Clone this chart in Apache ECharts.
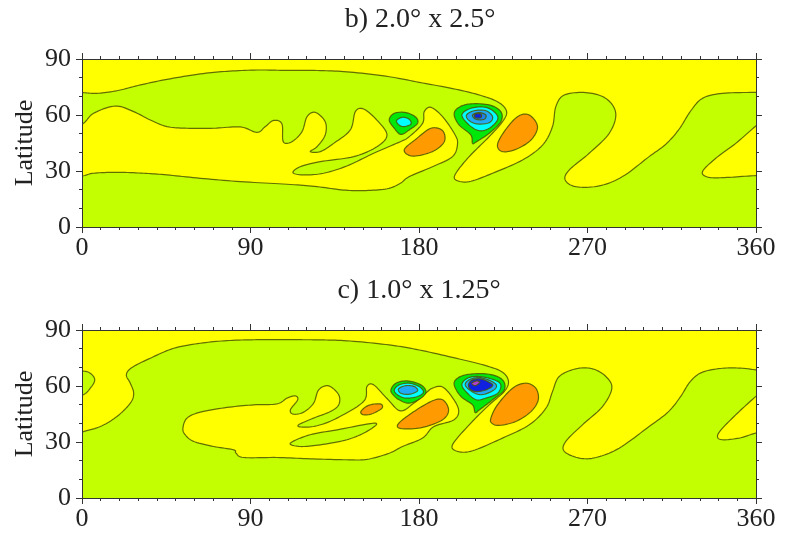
<!DOCTYPE html>
<html><head><meta charset="utf-8">
<style>html,body{margin:0;padding:0;background:#fff}#c{width:789px;height:536px}</style>
<script src="https://cdn.jsdelivr.net/npm/echarts@6/dist/echarts.min.js"></script>
</head><body><div id="c"></div>
<script>
// Contour outlines as [longitude, latitude]
const bTopBand=[[-12,110],[-12,72],[-5,72],[0,72],[8,71.6],[18.7,73],[31.2,76.1],[45.4,79.1],[63.2,82],[77.4,83.4],[93.5,84.1],[109.5,83.9],[127.3,83.8],[143.3,83],[164.1,80.5],[180.1,77.5],[199.7,73.8],[213.9,70.2],[222.8,66.6],[226.8,61.8],[224.6,56.4],[217.5,48.4],[206.8,37.7],[199.7,28.8],[199.7,25.2],[206.8,24.3],[219.3,28.8],[235.3,35.9],[246,43.9],[251.3,53.8],[253.1,64.5],[257.6,70.7],[269.1,72],[279.8,68.9],[285.1,60.9],[281.6,50.2],[270.9,39.5],[260.2,30.5],[258.1,25.2],[263.8,21.6],[276.2,22],[288.7,27],[302.9,37.7],[312,44.5],[319,52.5],[325,62],[331.4,68.9],[342.1,71.6],[359.9,72.1],[366,72.1],[372,72],[372,110]];
const bMidBand=[[-12,50],[0,55],[6.2,60.9],[17.8,64.8],[27.6,61.8],[36.5,57.3],[45.4,53.8],[56.1,52.9],[70.3,52.9],[84.6,53.6],[93.5,50.7],[97.9,53.8],[102.4,57.1],[106.8,55.2],[107.5,45.7],[112.1,45.7],[117.5,51.1],[120.2,59.1],[124.6,61.4],[129.9,56.4],[129.9,49.3],[125.5,43],[121.9,40.4],[127.3,40.4],[134.4,44.8],[143.3,52],[146,61.8],[150.4,63.2],[157.5,57.3],[162.9,49.3],[157.5,43],[145.1,37.7],[127.3,35],[116.6,32.3],[112.7,29.1],[118.4,27.9],[129,28.8],[141.5,32.7],[155.8,39.5],[170,45.7],[174.8,48.4],[181.9,55.5],[182.8,61.8],[186.4,64.1],[192.6,59.1],[198.8,50.2],[200.6,44.8],[197.9,37.7],[187.2,32.3],[174.8,27],[170,23.4],[163,20.5],[150.4,19.5],[139.7,19.8],[125.5,21.6],[109.5,22.9],[84.6,24.3],[63.2,26.1],[45.4,27.9],[32.9,28.8],[18.7,29.3],[6.2,28.8],[0,27.3],[-12,26]];
const bRightTongue=[[372,64],[359.9,54.1],[349.2,44.8],[338.5,36.8],[331.4,29.6],[335,26.6],[345.7,26.6],[359.9,27.5],[372,27]];
const bOrangeA=[[172.1,41.3],[178.3,47],[186.4,52.9],[192.6,51.6],[193.5,45.7],[187.2,40.4],[176.6,38]];
const bOrangeB=[[221.9,43.9],[225.5,51.1],[232.6,59.1],[238.9,60],[243.3,53.8],[239.8,46.6],[231.7,41.6],[224.6,40.4]];
const bEddyAGreen=[[164.1,57.3],[166.8,60.9],[173,61.3],[178.3,58.8],[179.2,55.5],[174.8,52],[170.3,49.6],[166.8,52.9]];
const bEddyACyan=[[168,57],[171.2,58.8],[174.8,57.7],[175.7,55.2],[172.1,53.8],[169.4,54.6]];
const bEddyBGreen=[[198.8,60],[200.6,63.6],[206.8,65.9],[217.5,65.4],[223.7,61.8],[223.7,56.4],[217.5,50.2],[210.7,45.7],[208.6,44.8],[207.7,49.3],[201.5,54.6]];
const bEddyBCyan=[[202.9,60],[207.7,63.6],[215.7,64.1],[221,60.9],[221.9,57.3],[217.5,52.9],[212.2,51.6],[206.8,54.6]];
const bEddyBBlue=[[205.4,60],[209.5,62.3],[215.7,62.3],[219.3,59.1],[217.5,55.9],[211.3,55.2],[206.8,57]];
const bEddyBMid=[[208.6,60],[212.2,61.3],[215.7,60],[214.8,57.7],[210.4,57.7]];
const bEddyBDeep=[[210,60.5],[213,60.5],[213,58.6],[210,58.6]];

const cTopBand=[[-12,110],[-12,31],[-5,33],[0,35.3],[9.8,38.3],[18.7,43.7],[25.8,50.8],[27.6,56.1],[25.8,61.5],[23.7,66],[26.7,69.9],[36.5,74.9],[49,80.2],[63.2,82.9],[77.4,84.3],[93.5,84.8],[109.5,84.8],[127.3,84.7],[143.3,84.1],[164.1,82],[180.1,79.3],[199.7,74.9],[215.7,70.9],[224.6,67.4],[227.8,62.4],[225.5,57],[217.5,49.9],[206.8,39.2],[197.9,28.5],[200.6,25],[208.6,25.3],[224.6,32.1],[238.9,39.2],[247.8,48.1],[251.3,57],[254.9,65.1],[263.8,69.2],[272.7,69.2],[279.8,65.1],[283,58.8],[278,49],[267.3,39.2],[258.4,30.3],[257.6,25],[265.6,21.4],[274.5,21.7],[286.9,26.7],[302.9,38.3],[313,46],[319.5,54],[325,62.5],[331.4,67.4],[342.1,69.5],[352.8,69.5],[359.9,68.6],[372,67],[372,110]];
const cLeftPatch=[[-12,69],[0,68.1],[4.4,66.8],[6.8,63.3],[4.4,58.8],[0,55],[-12,52]];
const cMidBand=[[53.9,37.4],[56.1,42.8],[63.2,46],[77.4,48.5],[91.7,49.9],[104.1,50.4],[109.5,53.5],[113.9,54.7],[115.2,52.6],[111.3,47.2],[113,44.9],[118.4,46],[123.7,50.8],[126.4,57.9],[131.7,60.1],[137.1,55.3],[137.1,49.9],[132.6,46.3],[123.7,42.8],[115.7,39.2],[117.5,38],[125.5,38.7],[136.2,42.8],[150.4,51.7],[152.2,59.7],[155.8,60.6],[162.9,53.3],[170,46.7],[177.1,50.7],[183.4,56],[186.9,58.7],[192.3,59.6],[197.6,54.2],[201.2,47],[198.5,41.8],[187.8,38.2],[181.9,32.1],[171.2,27.6],[164.1,24],[152.2,20.7],[139.7,20.5],[121.9,21],[104.1,21.7],[86.4,21.7],[82.2,24.1],[81,25.8],[70.3,27.6],[59.7,30.3],[55.1,33.9]];
const cHole=[[111.3,29.4],[121.9,33.9],[136.3,36.5],[156.6,40.1],[152.2,35.7],[141.5,31.2],[127.3,28.5],[116.6,27.6]];
const cRightTongue=[[372,65],[359.9,54.4],[351,46.3],[342.1,37.4],[339.4,33],[342.1,31.2],[351,32.1],[359.9,34.8],[372,38]];
const cOrangeA=[[149,46.4],[153,49.6],[159.3,50.4],[160.2,48.1],[154.8,45.1],[150.3,44.6]];
const cOrangeB=[[168.6,39.2],[174.8,44.6],[186.4,51.7],[192.6,52.6],[195.8,47.2],[192.6,41.9],[181.9,37.8],[171.2,37.1]];
const cOrangeC=[[218.4,42.8],[221.9,49.9],[230,58.8],[237.1,61.5],[242.4,58.8],[243.7,52.6],[239.8,46.3],[231.7,41],[222.8,38.9],[218.9,40.1]];
const cEddyAGreen=[[165,57.9],[167.7,61.5],[173.9,62.7],[181,60.6],[183.7,57],[181,53.5],[174.8,50.8],[169.4,52.6],[166.2,55.3]];
const cEddyACyan=[[166.8,57.9],[169.4,60.6],[174.8,61.5],[180.1,59.7],[182.4,56.7],[179.2,54.4],[173,53.5],[168.5,55.3]];
const cEddyABlue=[[169.1,58.5],[173,60.2],[177.5,59.7],[179.2,57.4],[174.8,55.6],[170.3,56.1]];
const cEddyBGreen=[[198.8,60.6],[200.6,64.2],[206.8,66.3],[217.5,66.3],[224.6,63.3],[225.5,57.9],[219.3,52.6],[212.2,47.2],[210,45.8],[208.6,49.9],[202.4,54.4]];
const cEddyBCyan=[[202.9,60.6],[205.9,64.2],[212.2,65.1],[220.2,63.3],[223.7,60.6],[222,56.1],[215.7,53.5],[210.7,52.6],[205.9,56.1]];
const cEddyBBlue=[[204.7,60.6],[206.8,63.3],[212.2,64.5],[218.4,62.7],[221.4,60.2],[219.3,57.4],[213,55.3],[207.7,57.4]];
const cEddyBDeep=[[206.5,61],[208.6,63.3],[213,63.8],[217.5,62],[219.3,60.2],[215.7,57.9],[210.4,57],[207.2,58.5]];
const cEddyBCore=[[208.2,61.5],[210.7,62.7],[212.5,62],[210,60.2]];

const titles=['b) 2.0° x 2.5°','c) 1.0° x 1.25°'];
const yName='Latitude';
const LIME='#c3ff00',YEL='#ffff00',ORG='#ff9a00',GRN='#00e80a',CYN='#00ffff',BLU='#20aaf5',MID='#1e80e8',DEEP='#1020e0',PUR='#b040d0';
const layersB=[[bTopBand,YEL],[bMidBand,YEL],[bRightTongue,YEL],[bOrangeA,ORG],[bOrangeB,ORG],[bEddyAGreen,GRN],[bEddyACyan,CYN],[bEddyBGreen,GRN],[bEddyBCyan,CYN],[bEddyBBlue,BLU],[bEddyBMid,MID],[bEddyBDeep,DEEP]];
const layersC=[[cTopBand,YEL],[cLeftPatch,LIME],[cMidBand,YEL],[cHole,LIME],[cRightTongue,YEL],[cOrangeA,ORG],[cOrangeB,ORG],[cOrangeC,ORG],[cEddyAGreen,GRN],[cEddyACyan,CYN],[cEddyABlue,BLU],[cEddyBGreen,GRN],[cEddyBCyan,CYN],[cEddyBBlue,BLU],[cEddyBDeep,DEEP],[cEddyBCore,PUR]];

const FONT='Liberation Serif',TXT='#222';
const tickCol='#333';
const stroke='rgba(75,85,0,0.85)';
function xAx(g,pos,lab){return {type:'value',gridIndex:g,position:pos,min:0,max:360,interval:90,z:5,
  axisLine:{show:true,onZero:false,lineStyle:{color:tickCol,width:1}},
  axisTick:{show:true,length:6,lineStyle:{color:tickCol}},
  minorTick:{show:true,splitNumber:9,length:3,lineStyle:{color:tickCol}},
  splitLine:{show:false},
  axisLabel:{show:lab,fontFamily:FONT,fontSize:26,color:TXT,margin:8,showMinLabel:true,showMaxLabel:true}};}
function yAx(g,pos,lab){return {type:'value',gridIndex:g,position:pos,min:0,max:90,interval:30,z:5,
  name:lab?yName:'',nameLocation:'middle',nameRotate:90,nameGap:44,nameMoveOverlap:false,nameTextStyle:{fontFamily:FONT,fontSize:26,color:TXT},
  axisLine:{show:true,onZero:false,lineStyle:{color:tickCol,width:1}},
  axisTick:{show:true,length:6,lineStyle:{color:tickCol}},
  minorTick:{show:true,splitNumber:3,length:3,lineStyle:{color:tickCol}},
  splitLine:{show:false},
  axisLabel:{show:lab,fontFamily:FONT,fontSize:26,color:TXT,margin:11,showMinLabel:true,showMaxLabel:true}};}
// closed Catmull-Rom curve through the screen points of an outline
function curve(pts){const out=[],n=pts.length,S=10;
  for(let i=0;i<n;i++){const a=pts[(i-1+n)%n],b=pts[i],c=pts[(i+1)%n],d=pts[(i+2)%n];
    for(let k=0;k<S;k++){const t=k/S,t2=t*t,t3=t2*t;
      out.push([0,1].map(j=>0.5*(2*b[j]+(c[j]-a[j])*t+(2*a[j]-5*b[j]+4*c[j]-d[j])*t2+(3*b[j]-a[j]-3*c[j]+d[j])*t3)));}}
  return out;}
function ser(layers,ax){return {type:'custom',xAxisIndex:ax,yAxisIndex:ax,clip:true,z:2,silent:true,
  data:layers.map((l,i)=>[i]),
  encode:{x:[],y:[]},
  renderItem:function(params,api){
    const l=layers[api.value(0)];
    return {type:'polygon',shape:{points:curve(l[0].map(p=>api.coord(p)))},
      style:{fill:l[1],stroke:stroke,lineWidth:1.2,lineJoin:'round'}};
  }};}
const chart=echarts.init(document.getElementById('c'),null,{renderer:'canvas'});
chart.setOption({animation:false,backgroundColor:'#fff',
  title:[
   {text:titles[0],left:415,top:1,textAlign:'center',textStyle:{fontFamily:FONT,fontSize:28,fontWeight:'normal',color:TXT}},
   {text:titles[1],left:414,top:272,textAlign:'center',textStyle:{fontFamily:FONT,fontSize:28,fontWeight:'normal',color:TXT}}],
  grid:[
   {left:82,width:674,top:59,height:168,show:true,backgroundColor:LIME,borderWidth:0},
   {left:82,width:674,top:330,height:168,show:true,backgroundColor:LIME,borderWidth:0}],
  xAxis:[xAx(0,'bottom',true),xAx(0,'top',false),xAx(1,'bottom',true),xAx(1,'top',false)],
  yAxis:[yAx(0,'left',true),yAx(0,'right',false),yAx(1,'left',true),yAx(1,'right',false)],
  series:[ser(layersB,0),ser(layersC,2)]
});
</script></body></html>
